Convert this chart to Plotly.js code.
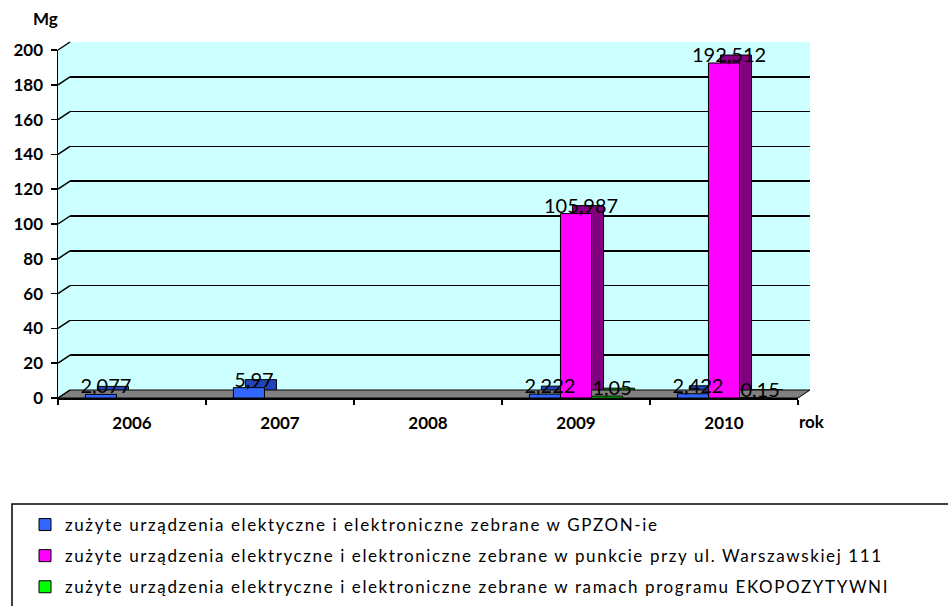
<!DOCTYPE html>
<html>
<head>
<meta charset="utf-8">
<script src="https://cdn.plot.ly/plotly-3.0.1.min.js"></script>
<style>
html,body{margin:0;padding:0;background:#fff}
#chart{width:948px;height:606px}
.legendtext{letter-spacing:1.6px}
</style>
</head>
<body>
<div id="chart"></div>
<script>
// ---- data ----
const years = ['2006', '2007', '2008', '2009', '2010'];
const gpzon = [2.077, 5.97, null, 2.222, 2.422];
const warszawska = [null, null, null, 105.987, 192.512];
const ekopozytywni = [null, null, null, 1.05, 0.15];
const seriesNames = [
  'zużyte urządzenia elektyczne i elektroniczne zebrane w GPZON-ie',
  'zużyte urządzenia elektryczne i elektroniczne zebrane w punkcie przy ul. Warszawskiej 111',
  'zużyte urządzenia elektryczne i elektroniczne zebrane w ramach programu EKOPOZYTYWNI'
];
const yTicks = [0, 20, 40, 60, 80, 100, 120, 140, 160, 180, 200];

// ---- styling ----
const W = 948, H = 606;
const FONT = 'Lato, "Open Sans", sans-serif';
const frontColors = ['#3366FF', '#FF00FF', '#00FF00'];
const sideColors = ['#2244BB', '#800080', '#00A000'];
const px = x => x / W;
const py = y => 1 - y / H;
// front plane, back plane and label plane (pixels)
const F = {l: 58, r: 798, b: 398, t: 50};
const B = {l: 70, r: 810, b: 390, t: 42};
const T = {l: 63, r: 803, b: 404, t: 56};
const yF = v => F.b - (v / 200) * (F.b - F.t);
const yB = v => B.b - (v / 200) * (B.b - B.t);

const fmt = v => (v === null ? '' : String(v).replace('.', ','));
const allSeries = [gpzon, warszawska, ekopozytywni];

const traces = [];
// back (depth) bars
allSeries.forEach((s, i) => {
  traces.push({
    type: 'bar', x: years, y: s, xaxis: 'x', yaxis: 'y', offsetgroup: 'g' + i,
    marker: {color: sideColors[i], line: {color: '#000', width: 1}},
    showlegend: false, hoverinfo: 'skip', name: seriesNames[i]
  });
});
// front bars
allSeries.forEach((s, i) => {
  traces.push({
    type: 'bar', x: years, y: s, xaxis: 'x2', yaxis: 'y2', offsetgroup: 'g' + i,
    name: seriesNames[i], legendgroup: 'g' + i,
    marker: {color: frontColors[i], line: {color: '#000', width: 1}},
    hoverinfo: 'skip'
  });
});
// data labels (transparent bars on a top layer, so labels sit above every bar)
allSeries.forEach((s, i) => {
  traces.push({
    type: 'bar', x: years, y: s, xaxis: 'x3', yaxis: 'y3', offsetgroup: 'g' + i,
    showlegend: false, name: seriesNames[i],
    marker: {color: 'rgba(0,0,0,0)', line: {width: 0}},
    text: s.map(fmt), textposition: 'outside', constraintext: 'none',
    cliponaxis: false,
    textfont: {family: FONT, size: 20, color: '#000'},
    hoverinfo: 'skip'
  });
});

const cyanPath = `M${px(F.l)},${py(F.b)} L${px(F.l)},${py(F.t)} L${px(B.l)},${py(B.t)} L${px(B.r)},${py(B.t)} L${px(B.r)},${py(B.b)} L${px(F.r)},${py(F.b)} Z`;
const floorPath = `M${px(F.l)},${py(F.b)} L${px(B.l)},${py(B.b)} L${px(B.r)},${py(B.b)} L${px(F.r)},${py(F.b)} Z`;

const shapes = [
  {type: 'path', xref: 'paper', yref: 'paper', path: cyanPath, fillcolor: '#CCFFFF', line: {width: 0}, layer: 'below'},
  {type: 'path', xref: 'paper', yref: 'paper', path: floorPath, fillcolor: '#808080', line: {color: '#000', width: 1}, layer: 'below'}
];
yTicks.forEach(v => {
  shapes.push({type: 'line', xref: 'paper', yref: 'paper',
    x0: px(F.l), y0: py(yF(v)), x1: px(B.l), y1: py(yB(v)),
    line: {color: '#000', width: 1.5}, layer: 'below'});
});
// legend frame
shapes.push({type: 'rect', xref: 'paper', yref: 'paper',
  x0: px(12), x1: 1.05, y0: -0.05, y1: py(504),
  line: {color: '#000', width: 1.5}, fillcolor: 'rgba(0,0,0,0)'});

const hidden = {showgrid: false, showline: false, zeroline: false, showticklabels: false, ticks: ''};

const layout = {
  width: W, height: H,
  margin: {l: 0, r: 0, t: 0, b: 0},
  paper_bgcolor: '#fff', plot_bgcolor: 'rgba(0,0,0,0)',
  barmode: 'group', bargap: 0.37, bargroupgap: 0,
  font: {family: FONT, color: '#000'},
  xaxis: Object.assign({domain: [px(B.l), px(B.r)], anchor: 'y', type: 'category'}, hidden),
  yaxis: {domain: [py(B.b), py(B.t)], anchor: 'x', range: [0, 200],
    tickvals: yTicks, showgrid: true, gridcolor: '#000', gridwidth: 1.5,
    showline: false, zeroline: false, showticklabels: false, ticks: ''},
  xaxis2: {domain: [px(F.l), px(F.r)], anchor: 'y2', type: 'category',
    showgrid: false, zeroline: false, showline: true, linecolor: '#000', linewidth: 1.5,
    ticks: 'outside', tickson: 'boundaries', ticklen: 5, tickcolor: '#000', tickwidth: 1.5,
    ticklabelstandoff: 9,
    tickfont: {family: FONT, size: 17, color: '#000', weight: 'bold'}},
  yaxis2: {domain: [py(F.b), py(F.t)], anchor: 'x2', range: [0, 200],
    tickvals: yTicks, showgrid: false, zeroline: false,
    showline: true, linecolor: '#000', linewidth: 1.5,
    ticks: 'outside', ticklen: 6, tickcolor: '#000', tickwidth: 1.5,
    ticklabelstandoff: 4,
    tickfont: {family: FONT, size: 17, color: '#000', weight: 'bold'}},
  xaxis3: Object.assign({domain: [px(T.l), px(T.r)], anchor: 'y3', type: 'category'}, hidden),
  yaxis3: Object.assign({domain: [py(T.b), py(T.t)], anchor: 'x3', range: [0, 200]}, hidden),
  shapes: shapes,
  annotations: [
    {text: 'Mg', xref: 'paper', yref: 'paper', x: px(45), y: py(18), showarrow: false,
      font: {family: FONT, size: 17, weight: 'bold'}, xanchor: 'center', yanchor: 'middle'},
    {text: 'rok', xref: 'paper', yref: 'paper', x: px(812), y: py(421), showarrow: false,
      font: {family: FONT, size: 17, weight: 'bold'}, xanchor: 'center', yanchor: 'middle'}
  ],
  showlegend: true,
  legend: {x: px(25), y: py(507), xanchor: 'left', yanchor: 'top',
    bgcolor: 'rgba(0,0,0,0)', borderwidth: 0, tracegroupgap: 6,
    font: {family: FONT, size: 17, color: '#000'}, traceorder: 'grouped'}
};

Plotly.newPlot('chart', traces, layout, {staticPlot: true, displayModeBar: false});
</script>
</body>
</html>
